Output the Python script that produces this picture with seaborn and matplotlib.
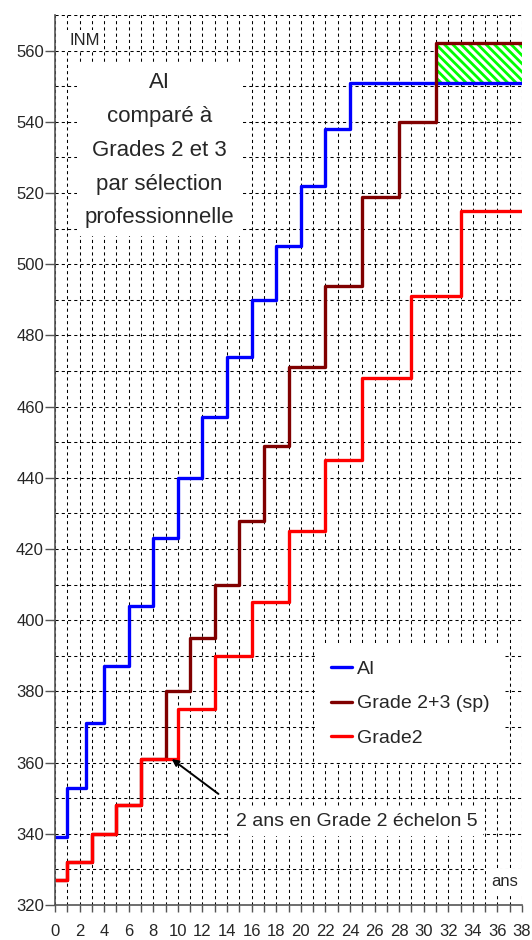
import matplotlib
matplotlib.use('Agg')
import matplotlib.pyplot as plt
from matplotlib.ticker import MultipleLocator
import pandas as pd
import seaborn as sns

# ---------------------------
# Data (INM par année)
# ---------------------------
ai_years = [0, 1, 2.5, 4, 6, 8, 10, 12, 14, 16, 18, 20, 22, 24, 38]
ai_inm = [339, 353, 371, 387, 404, 423, 440, 457, 474, 490, 505, 522, 538, 551, 551]

g23_years = [0, 1, 3, 5, 7, 9, 11, 13, 15, 17, 19, 22, 25, 28, 31, 38]
g23_inm = [327, 332, 340, 348, 361, 380, 395, 410, 428, 449, 471, 494, 519, 540, 562, 562]

g2_years = [0, 1, 3, 5, 7, 10, 13, 16, 19, 22, 25, 29, 33, 38]
g2_inm = [327, 332, 340, 348, 361, 375, 390, 405, 425, 445, 468, 491, 515, 515]

series_names = ["AI", "Grade 2+3 (sp)", "Grade2"]
series_colors = ["#0000FF", "#800000", "#FF0000"]

gap_years = [31, 38]
gap_low = [551, 551]
gap_high = [562, 562]

x_ticks = list(range(0, 39, 2))
y_ticks = list(range(320, 561, 20))

df = pd.concat([
    pd.DataFrame({"ans": ai_years, "INM": ai_inm, "Serie": series_names[0]}),
    pd.DataFrame({"ans": g23_years, "INM": g23_inm, "Serie": series_names[1]}),
    pd.DataFrame({"ans": g2_years, "INM": g2_inm, "Serie": series_names[2]}),
])

# ---------------------------
# Plot
# ---------------------------
sns.set_style("white")
plt.rcParams['font.family'] = ['Liberation Sans', 'DejaVu Sans']
plt.rcParams['hatch.linewidth'] = 2.0

fig = plt.figure(figsize=(5.32, 9.4), dpi=100)
ax = fig.add_axes([55 / 532, 1 - 905 / 940, 467 / 532, 890 / 940])

# écart AI / Grade 2+3 en fin de carrière
ax.fill_between(gap_years, gap_low, gap_high, facecolor="white",
                edgecolor="#00FF00", hatch="\\\\\\\\", linewidth=0, zorder=1.5)

sns.lineplot(data=df, x="ans", y="INM", hue="Serie", hue_order=series_names,
             palette=series_colors, drawstyle="steps-post", linewidth=2.4,
             sort=False, estimator=None, ax=ax)

ax.set_xlim(0, 38)
ax.set_ylim(320, 570)
ax.xaxis.set_minor_locator(MultipleLocator(1))
ax.yaxis.set_minor_locator(MultipleLocator(10))
ax.set_xticks(x_ticks)
ax.set_yticks(y_ticks)
ax.set_xlabel("")
ax.set_ylabel("")

ax.grid(True, which="both", color="black", linestyle=(0, (3, 3)), linewidth=0.75)
ax.set_axisbelow(True)

for s in ["top", "right"]:
    ax.spines[s].set_visible(False)
for s in ["left", "bottom"]:
    ax.spines[s].set_color("#555555")
    ax.spines[s].set_linewidth(1.2)

ax.tick_params(axis="y", which="major", direction="out", length=7, width=1,
               color="#555555", labelsize=12, pad=1, left=True)
ax.tick_params(axis="y", which="minor", length=0)
ax.tick_params(axis="x", which="both", direction="out", length=5, width=1,
               color="#555555", labelsize=12, pad=9, bottom=True)

ax.legend(loc="upper left", bbox_to_anchor=(0.557, 0.292), fontsize=14,
          frameon=True, facecolor="white", edgecolor="none", framealpha=1,
          fancybox=False, handlelength=1.1, handletextpad=0.25,
          labelspacing=0.85, borderpad=0.8, borderaxespad=0)

ax.text(8.5, 532, "AI\ncomparé à\nGrades 2 et 3\npar sélection\nprofessionnelle",
        ha="center", va="center", fontsize=16, linespacing=1.8,
        bbox=dict(boxstyle="square,pad=0.35", fc="white", ec="none"), zorder=4)

ax.text(1.2, 562.8, "INM", ha="left", va="center", fontsize=12,
        bbox=dict(boxstyle="square,pad=0.2", fc="white", ec="none"), zorder=4)

ax.text(35.5, 326.5, "ans", ha="left", va="center", fontsize=12,
        bbox=dict(boxstyle="square,pad=0.3", fc="white", ec="none"), zorder=4)

ax.text(14.7, 343.4, "2 ans en Grade 2 échelon 5", ha="left", va="center",
        fontsize=14, bbox=dict(boxstyle="square,pad=0.3", fc="white", ec="none"),
        zorder=4)

ax.annotate("", xy=(9.5, 361), xytext=(13.3, 351.2),
            arrowprops=dict(arrowstyle="-|>", color="black", lw=1.4,
                            mutation_scale=10, shrinkA=0, shrinkB=0), zorder=5)

fig.savefig("out.png", dpi=100)
plt.close(fig)
